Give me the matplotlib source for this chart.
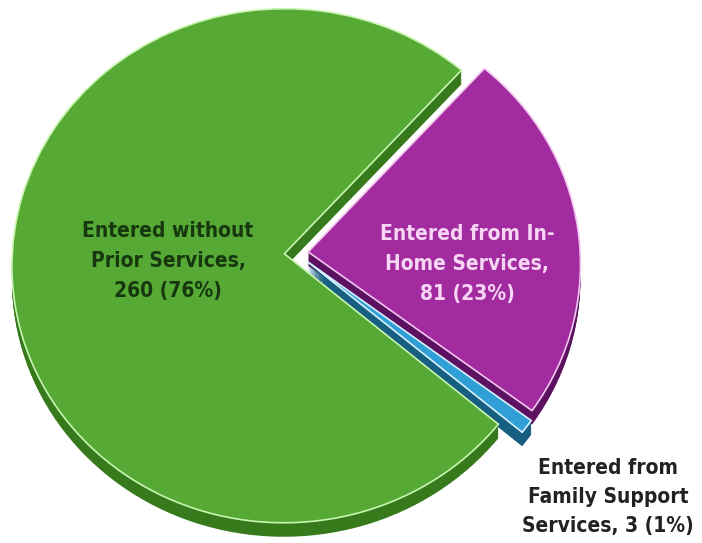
import matplotlib
matplotlib.use("Agg")
import numpy as np
import matplotlib.pyplot as plt
from matplotlib import font_manager
import matplotlib.transforms as mtransforms

# Data
categories = ["Entered from In-\nHome Services,", "Entered without\nPrior Services,", "Entered from\nFamily Support\nServices,"]
values = [81, 260, 3]
percents = ["23%", "76%", "1%"]

top_colors = ["#a22b9f", "#55a934", "#2f9fd6"]
side_colors = ["#5c1260", "#377a1c", "#175f80"]
edge_colors = ["#f3c6f0", "#c8f5b0", "#d8f0ff"]


class Perspective(mtransforms.Transform):
    """Projective view of a tilted disc (far side = top)."""
    input_dims = 2
    output_dims = 2
    is_separable = False
    has_inverse = False

    def __init__(self, a, b, ky, kx):
        super().__init__()
        self.a, self.b, self.ky, self.kx = a, b, ky, kx

    def transform_non_affine(self, values):
        xy = np.asarray(values, dtype=float)
        u, v = xy[:, 0], xy[:, 1]
        d = 1 + self.ky * v + self.kx * u
        return np.column_stack([self.b * u / d, self.a * v / d])


# pick a condensed bold font if one is installed
narrow = None
for f in font_manager.fontManager.ttflist:
    n = f.name.lower()
    if "narrow" in n or "condensed" in n or f.stretch in ("condensed", "semi-condensed"):
        narrow = f
        break

W, H = 702, 543
fig = plt.figure(figsize=(W / 100, H / 100), dpi=100)
ax = fig.add_axes([0, 0, 1, 1])

cx, cy = 296, H - 253
persp = Perspective(a=256.4, b=272, ky=0.0467, kx=0.0)
explode = [0.045, 0.043, 0.052]
start = -37.0
depth = 14

for k in range(depth, 0, -1):
    ws, _ = ax.pie(values, colors=side_colors, startangle=start, counterclock=True,
                   center=(0, 0), radius=1, explode=explode, frame=True,
                   wedgeprops=dict(linewidth=0))
    tr = persp + mtransforms.Affine2D().translate(cx, cy - k) + ax.transData
    for w in ws:
        w.set_transform(tr)

wedges, _ = ax.pie(values, colors=top_colors, startangle=start, counterclock=True,
                   center=(0, 0), radius=1, explode=explode, frame=True,
                   wedgeprops=dict(linewidth=1.2))
tr = persp + mtransforms.Affine2D().translate(cx, cy) + ax.transData
for w, ec in zip(wedges, edge_colors):
    w.set_transform(tr)
    w.set_edgecolor(ec)

ax.set_aspect("auto")
ax.set_xlim(0, W)
ax.set_ylim(0, H)
ax.axis("off")


def tkw(size):
    if narrow is not None:
        return dict(fontproperties=font_manager.FontProperties(fname=narrow.fname, size=size, weight="bold"))
    return dict(family="DejaVu Sans", fontweight="bold", fontstretch="condensed", fontsize=size)


labels = [f"{c}\n{v} ({p})" for c, v, p in zip(categories[:2], values[:2], percents[:2])]
labels.append(f"{categories[2]} {values[2]} ({percents[2]})")

ax.text(467, H - 264, labels[0], ha="center", va="center",
        color="#f7d6f5", linespacing=1.6, **tkw(15))
ax.text(168, H - 261, labels[1], ha="center", va="center",
        color="#17370f", linespacing=1.6, **tkw(15))
ax.text(608, H - 497, labels[2], ha="center", va="center",
        color="#222222", linespacing=1.55, **tkw(15))

fig.savefig("out.png", dpi=100)
